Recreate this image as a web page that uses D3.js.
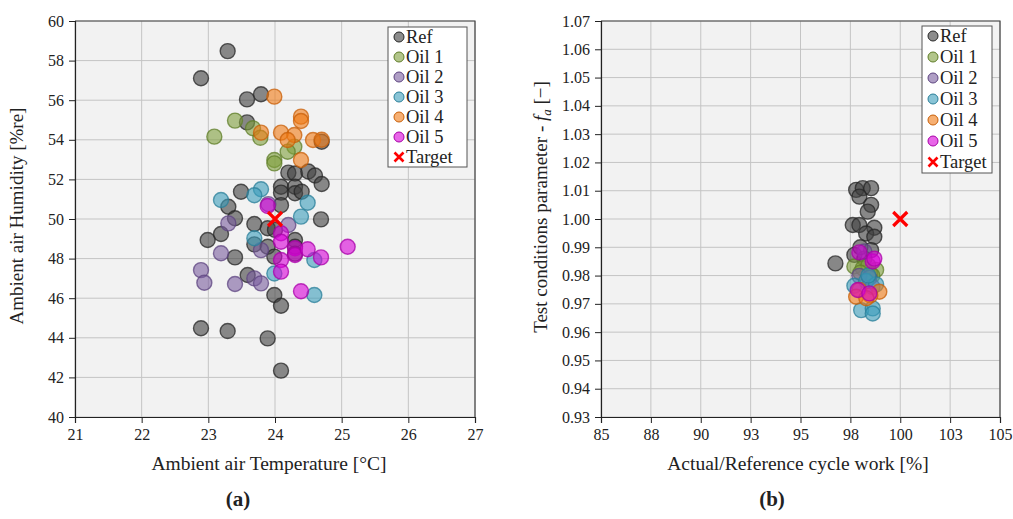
<!DOCTYPE html>
<html>
<head>
<meta charset="utf-8">
<script src="https://cdn.jsdelivr.net/npm/d3@7/dist/d3.min.js"></script>
<style>
  body { margin: 0; background: #fff; }
  svg text { font-family: "Palatino Linotype", "Book Antiqua", Palatino, "Liberation Serif", serif; fill: #222; }
</style>
</head>
<body>
<svg id="chart" width="1013" height="519"></svg>
<script>
// (a) ambient air temperature [°C] vs humidity [%re]
const ambientRef = [
    [23.29, 58.48], [22.89, 57.11], [23.58, 56.04], [23.79, 56.3], [23.58, 54.88],
    [24.7, 53.9], [24.2, 52.34], [24.3, 52.3], [24.5, 52.4], [24.6, 52.2],
    [24.7, 51.77], [23.49, 51.38], [24.09, 51.63], [24.09, 51.33], [24.3, 51.63],
    [24.3, 51.3], [24.4, 51.38], [23.3, 50.62], [24.09, 50.7], [24.69, 49.98],
    [23.4, 50.04], [23.69, 49.75], [23.89, 49.53], [23.19, 49.24], [22.99, 48.94],
    [23.69, 48.72], [23.89, 48.6], [23.99, 48.1], [24.3, 48.94], [24.3, 48.6],
    [24.3, 48.25], [23.4, 48.06], [23.59, 47.17], [23.99, 46.16], [24.09, 45.62],
    [22.89, 44.48], [23.29, 44.34], [23.89, 43.97], [24.09, 42.34], [24.0, 49.45]
];
const ambientOil1 = [
    [23.4, 54.97], [23.09, 54.16], [23.67, 54.58], [23.78, 54.1],
    [24.29, 53.65], [24.19, 53.4], [23.99, 52.98], [23.99, 52.81]
];
const ambientOil2 = [
    [23.3, 49.78], [24.2, 49.7], [23.79, 48.43], [23.19, 48.27], [22.89, 47.42],
    [22.94, 46.78], [23.4, 46.72], [23.69, 47.0], [23.79, 46.75], [23.9, 50.75]
];
const ambientOil3 = [
    [23.79, 51.5], [23.69, 51.2], [23.19, 50.96], [24.49, 50.82], [24.39, 50.12],
    [23.69, 49.03], [24.59, 47.93], [23.99, 47.25], [24.59, 46.16]
];
const ambientOil4 = [
    [23.99, 56.18], [24.39, 55.17], [24.39, 54.95], [23.79, 54.36], [24.09, 54.36],
    [24.29, 54.24], [24.19, 53.99], [24.57, 53.99], [24.7, 54.0], [24.39, 52.98]
];
const ambientOil5 = [
    [23.89, 50.66], [24.09, 49.28], [24.09, 48.85], [24.3, 48.52], [24.3, 48.18],
    [24.49, 48.47], [24.69, 48.06], [25.09, 48.6], [24.09, 47.93], [24.09, 47.34],
    [24.39, 46.35]
];
const ambientTarget = [[24, 50]];

// (b) actual/reference cycle work [%] vs test conditions parameter f_a
const cycleRef = [
    [97.79, 1.0103], [98.12, 1.0109], [98.54, 1.0109], [97.95, 1.0079], [98.54, 1.0050],
    [98.37, 1.0026], [97.62, 0.9979], [97.95, 0.9979], [98.70, 0.9969], [98.29, 0.9949],
    [98.70, 0.9937], [96.75, 0.9843], [97.70, 0.9873], [98.54, 0.9890], [98.2, 0.9860],
    [98.5, 0.9805], [98.0, 0.9900]
];
const cycleOil1 = [
    [97.7, 0.9832], [98.12, 0.9826], [98.79, 0.9820], [98.4, 0.9835], [98.0, 0.9810], [98.6, 0.9800]
];
const cycleOil2 = [
    [97.95, 0.9799], [98.45, 0.9792], [98.2, 0.9885], [98.6, 0.9760]
];
const cycleOil3 = [
    [97.7, 0.9764], [98.29, 0.9781], [98.79, 0.9769], [98.04, 0.9678], [98.62, 0.9684],
    [98.62, 0.9666], [98.4, 0.9800]
];
const cycleOil4 = [
    [97.95, 0.9749], [98.95, 0.9743], [97.79, 0.9725], [98.5, 0.9730], [98.3, 0.9720]
];
const cycleOil5 = [
    [97.95, 0.9882], [98.62, 0.9850], [97.87, 0.9749], [98.45, 0.9737], [98.7, 0.9860]
];
const cycleTarget = [[100, 1.00]];

const seriesNames = ["Ref", "Oil 1", "Oil 2", "Oil 3", "Oil 4", "Oil 5"];
const seriesFill = ["#404040", "#7f9f3c", "#7a5e9e", "#3a9dbb", "#f07a14", "#d800d8"];
const seriesStroke = ["#262626", "#5f7d28", "#5d4480", "#2a7f99", "#c85f08", "#a800a8"];

const ambientTempTicks = d3.range(21, 27.01, 1);
const ambientHumTicks = d3.range(40, 60.01, 2);
const cycleWorkTicks = d3.range(85, 105.01, 2.5);
const cycleFaTicks = d3.range(0.93, 1.0701, 0.01);

const svg = d3.select("#chart");

function drawPanel(opt) {
    const x = d3.scaleLinear().domain(opt.xDomain).range([opt.left, opt.right]);
    const y = d3.scaleLinear().domain(opt.yDomain).range([opt.bottom, opt.top]);
    const g = svg.append("g");

    // plot area background
    g.append("rect")
        .attr("x", opt.left).attr("y", opt.top)
        .attr("width", opt.right - opt.left).attr("height", opt.bottom - opt.top)
        .attr("fill", "#f2f2f2");

    // grid
    g.selectAll(".vgrid").data(opt.xTicks).enter().append("line")
        .attr("x1", d => x(d)).attr("x2", d => x(d))
        .attr("y1", opt.top).attr("y2", opt.bottom)
        .attr("stroke", "#c4c4c4").attr("stroke-width", 1);
    g.selectAll(".hgrid").data(opt.yTicks).enter().append("line")
        .attr("x1", opt.left).attr("x2", opt.right)
        .attr("y1", d => y(d)).attr("y2", d => y(d))
        .attr("stroke", "#c4c4c4").attr("stroke-width", 1);

    // top and right frame
    g.append("path")
        .attr("d", `M${opt.left},${opt.top}H${opt.right}V${opt.bottom}`)
        .attr("fill", "none").attr("stroke", "#444").attr("stroke-width", 1.2);

    const xAxis = g.append("g")
        .attr("transform", `translate(0,${opt.bottom})`)
        .call(d3.axisBottom(x).tickValues(opt.xTicks).tickFormat(opt.xFormat).tickSize(6).tickPadding(6));
    const yAxis = g.append("g")
        .attr("transform", `translate(${opt.left},0)`)
        .call(d3.axisLeft(y).tickValues(opt.yTicks).tickFormat(opt.yFormat).tickSize(6).tickPadding(5));
    [xAxis, yAxis].forEach(a => {
        a.select(".domain").attr("stroke", "#222").attr("stroke-width", 1.2);
        a.selectAll(".tick line").attr("stroke", "#222");
        a.selectAll("text").style("font-size", "16px").attr("fill", "#222");
    });

    // markers, Ref first so the oils sit on top
    opt.series.forEach((pts, i) => {
        g.append("g").selectAll("circle").data(pts).enter().append("circle")
            .attr("cx", d => x(d[0])).attr("cy", d => y(d[1]))
            .attr("r", 7.5)
            .attr("fill", seriesFill[i]).attr("fill-opacity", 0.6)
            .attr("stroke", seriesStroke[i]).attr("stroke-opacity", 0.75).attr("stroke-width", 1.4);
    });

    // target cross
    g.selectAll(".target").data(opt.target).enter().append("path")
        .attr("d", d => {
            const cx = x(d[0]), cy = y(d[1]), s = 7;
            return `M${cx - s},${cy - s}L${cx + s},${cy + s}M${cx - s},${cy + s}L${cx + s},${cy - s}`;
        })
        .attr("stroke", "#ff0000").attr("stroke-width", 3.2);

    // axis titles
    g.append("text")
        .attr("x", opt.xTitleX).attr("y", opt.bottom + 53)
        .attr("text-anchor", "middle").style("font-size", "19.5px")
        .text(opt.xTitle);
    const yt = g.append("text")
        .attr("transform", `translate(${opt.yTitleX},${opt.yTitleY}) rotate(-90)`)
        .attr("text-anchor", "middle").style("font-size", "19px");
    opt.yTitle(yt);

    g.append("text")
        .attr("x", opt.captionX).attr("y", 506)
        .attr("text-anchor", "middle").style("font-size", "21px").style("font-weight", "bold")
        .text(opt.caption);

    // legend
    const lg = g.append("g");
    lg.append("rect")
        .attr("x", opt.legend.x).attr("y", opt.legend.y)
        .attr("width", opt.legend.w).attr("height", opt.legend.h)
        .attr("fill", "#fff").attr("stroke", "#555").attr("stroke-width", 1);
    const names = seriesNames.concat(["Target"]);
    names.forEach((name, i) => {
        const cy = opt.legend.y + opt.legend.first + i * opt.legend.step;
        const cx = opt.legend.x + 11;
        if (i < seriesNames.length) {
            lg.append("circle").attr("cx", cx).attr("cy", cy).attr("r", 5)
                .attr("fill", seriesFill[i]).attr("fill-opacity", 0.6)
                .attr("stroke", seriesStroke[i]).attr("stroke-width", 1);
        } else {
            const s = 4.5;
            lg.append("path")
                .attr("d", `M${cx - s},${cy - s}L${cx + s},${cy + s}M${cx - s},${cy + s}L${cx + s},${cy - s}`)
                .attr("stroke", "#ff0000").attr("stroke-width", 2.6);
        }
        lg.append("text").attr("x", cx + 7).attr("y", cy + 6)
            .style("font-size", "18.5px").text(name);
    });
}

drawPanel({
    left: 75, right: 475, top: 21, bottom: 417,
    xDomain: [21, 27], yDomain: [40, 60],
    xTicks: ambientTempTicks, yTicks: ambientHumTicks,
    xFormat: d3.format("d"), yFormat: d3.format("d"),
    series: [ambientRef, ambientOil1, ambientOil2, ambientOil3, ambientOil4, ambientOil5],
    target: ambientTarget,
    xTitle: "Ambient air Temperature [°C]", xTitleX: 269,
    yTitleX: 23, yTitleY: 216,
    yTitle: t => t.text("Ambient air Humidity [%re]"),
    caption: "(a)", captionX: 238,
    legend: { x: 388, y: 27, w: 79, h: 140, first: 10, step: 20 }
});

drawPanel({
    left: 601, right: 1000, top: 21, bottom: 417,
    xDomain: [85, 105], yDomain: [0.93, 1.07],
    xTicks: cycleWorkTicks, yTicks: cycleFaTicks,
    xFormat: d => String(Math.round(d)), yFormat: d3.format(".2f"),
    series: [cycleRef, cycleOil1, cycleOil2, cycleOil3, cycleOil4, cycleOil5],
    target: cycleTarget,
    xTitle: "Actual/Reference cycle work [%]", xTitleX: 798,
    yTitleX: 547, yTitleY: 207,
    yTitle: t => {
        t.append("tspan").text("Test conditions parameter - ");
        t.append("tspan").style("font-style", "italic").text("f");
        t.append("tspan").attr("dy", 4).style("font-size", "13px").style("font-style", "italic").text("a");
        t.append("tspan").attr("dy", -4).text(" [\u2212]");
    },
    caption: "(b)", captionX: 772,
    legend: { x: 922, y: 26, w: 70, h: 147, first: 10, step: 21 }
});
</script>
</body>
</html>
